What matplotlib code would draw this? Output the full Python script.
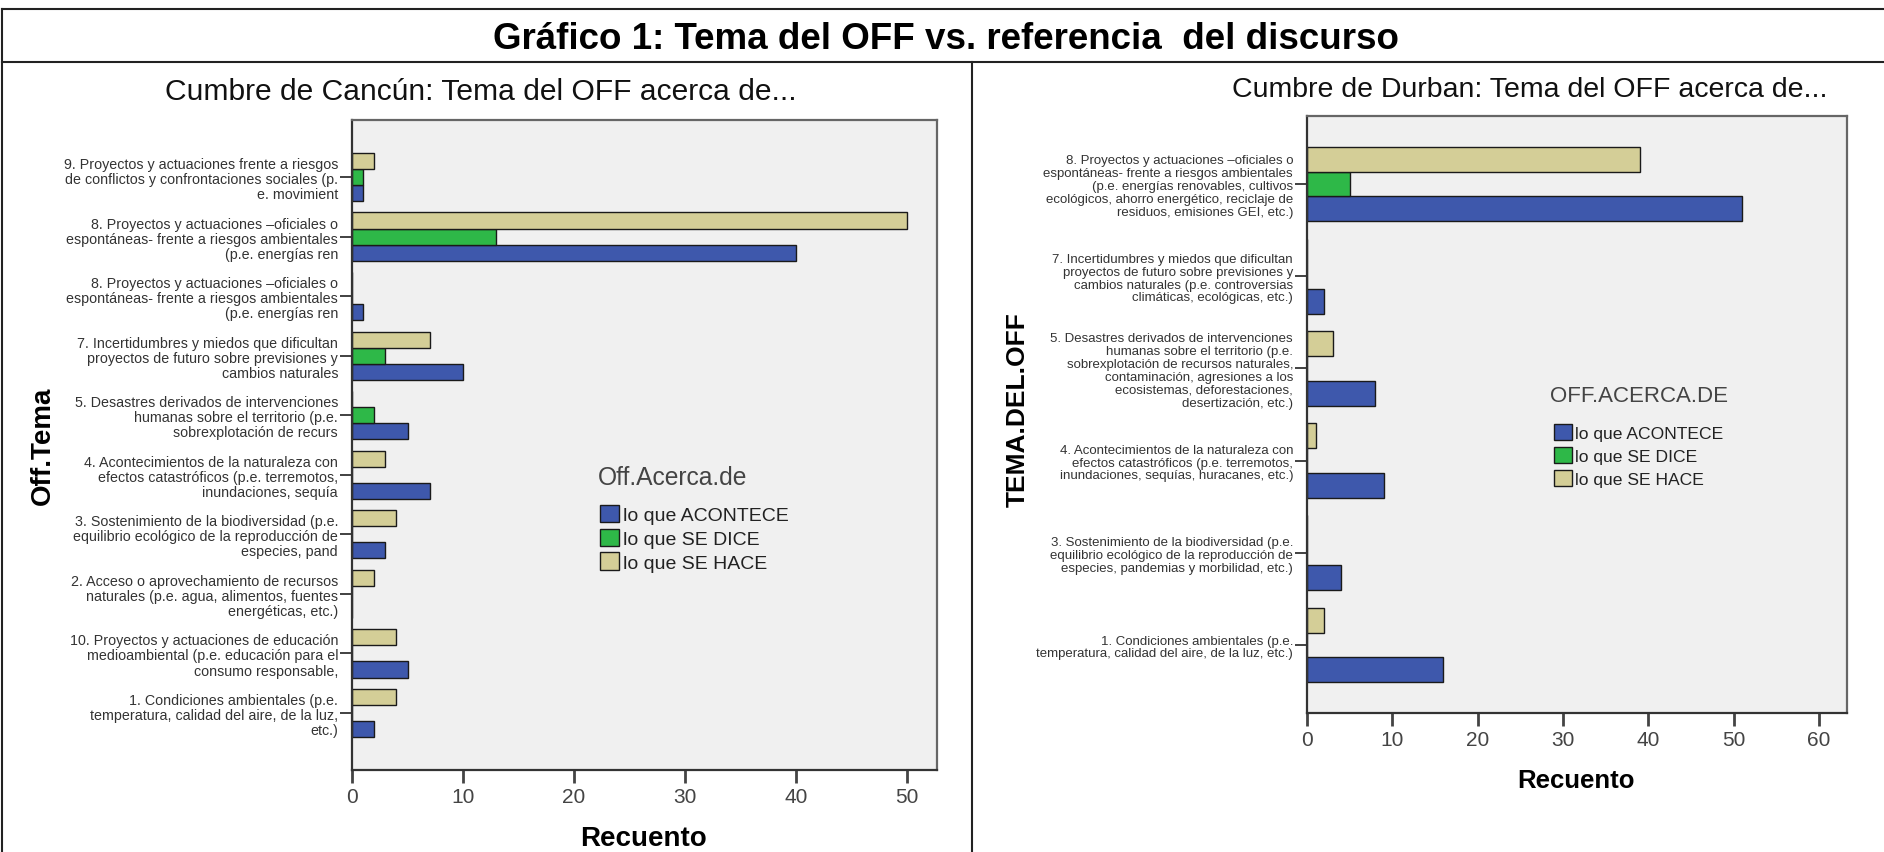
import numpy as np
import matplotlib
matplotlib.use("Agg")
import matplotlib.pyplot as plt
from matplotlib.lines import Line2D

plt.rcParams['font.family'] = ['Liberation Sans', 'DejaVu Sans']

# series (same order in both panels)
series = ["lo que ACONTECE", "lo que SE DICE", "lo que SE HACE"]
colors = ["#3E58AC", "#2EB848", "#D4CE97"]

# Cancún, categories listed top to bottom
cancun_labels = [
    "9. Proyectos y actuaciones frente a riesgos\nde conflictos y confrontaciones sociales (p.\ne. movimient",
    "8. Proyectos y actuaciones –oficiales o\nespontáneas- frente a riesgos ambientales\n(p.e. energías ren",
    "8. Proyectos y actuaciones –oficiales o\nespontáneas- frente a riesgos ambientales\n(p.e. energías ren",
    "7. Incertidumbres y miedos que dificultan\nproyectos de futuro sobre previsiones y\ncambios naturales",
    "5. Desastres derivados de intervenciones\nhumanas sobre el territorio (p.e.\nsobrexplotación de recurs",
    "4. Acontecimientos de la naturaleza con\nefectos catastróficos (p.e. terremotos,\ninundaciones, sequía",
    "3. Sostenimiento de la biodiversidad (p.e.\nequilibrio ecológico de la reproducción de\nespecies, pand",
    "2. Acceso o aprovechamiento de recursos\nnaturales (p.e. agua, alimentos, fuentes\nenergéticas, etc.)",
    "10. Proyectos y actuaciones de educación\nmedioambiental (p.e. educación para el\nconsumo responsable,",
    "1. Condiciones ambientales (p.e.\ntemperatura, calidad del aire, de la luz,\netc.)",
]
cancun_acontece = [1, 40, 1, 10, 5, 7, 3, 0, 5, 2]
cancun_dice = [1, 13, 0, 3, 2, 0, 0, 0, 0, 0]
cancun_hace = [2, 50, 0, 7, 0, 3, 4, 2, 4, 4]

# Durban, categories listed top to bottom
durban_labels = [
    "8. Proyectos y actuaciones –oficiales o\nespontáneas- frente a riesgos ambientales\n(p.e. energías renovables, cultivos\necológicos, ahorro energético, reciclaje de\nresiduos, emisiones GEI, etc.)",
    "7. Incertidumbres y miedos que dificultan\nproyectos de futuro sobre previsiones y\ncambios naturales (p.e. controversias\nclimáticas, ecológicas, etc.)",
    "5. Desastres derivados de intervenciones\nhumanas sobre el territorio (p.e.\nsobrexplotación de recursos naturales,\ncontaminación, agresiones a los\necosistemas, deforestaciones,\ndesertización, etc.)",
    "4. Acontecimientos de la naturaleza con\nefectos catastróficos (p.e. terremotos,\ninundaciones, sequías, huracanes, etc.)",
    "3. Sostenimiento de la biodiversidad (p.e.\nequilibrio ecológico de la reproducción de\nespecies, pandemias y morbilidad, etc.)",
    "1. Condiciones ambientales (p.e.\ntemperatura, calidad del aire, de la luz, etc.)",
]
durban_acontece = [51, 2, 8, 9, 4, 16]
durban_dice = [5, 0, 0, 0, 0, 0]
durban_hace = [39, 0, 3, 1, 0, 2]

W, H = 1884, 853
fig = plt.figure(figsize=(W / 100, H / 100), dpi=100)


def fx(px):
    return px / W


def fy(py):
    return 1 - py / H


# outer box, title strip and divider
for xs, ys in [((2, W), (10, 10)), ((2, 2), (10, H)), ((2, W), (63, 63)), ((972, 972), (63, H))]:
    fig.add_artist(Line2D([fx(xs[0]), fx(xs[1])], [fy(ys[0]), fy(ys[1])],
                          color="#222", lw=1.5, transform=fig.transFigure))


def panel(rect, labels, acontece, dice, hace, xmax, xticks, margin, lab_size,
          leg_title, title_pos, leg_anchor, leg_size, leg_title_size, leg_space):
    ax = fig.add_axes(rect)
    n = len(labels)
    y = np.arange(n)[::-1]
    h = 0.27
    for vals, off, c, name in zip([acontece, dice, hace], [-h, 0, h], colors, series):
        ax.barh(y + off, vals, height=h, color=c, edgecolor="#1a1a1a",
                linewidth=1.0, label=name, zorder=2)
    ax.set_facecolor("#F0F0F0")
    ax.set_xlim(0, xmax)
    ax.set_ylim(-margin, n - 1 + margin)
    ax.set_xticks(xticks)
    ax.set_yticks(y)
    ax.set_yticklabels(labels, fontsize=lab_size, linespacing=1.1, color="#333")
    ax.tick_params(axis="y", length=9, width=1.3, pad=1, color="#333")
    ax.tick_params(axis="x", length=9, width=2, pad=3, color="#444",
                   labelsize=15, labelcolor="#444")
    for s in ["left", "bottom"]:
        ax.spines[s].set_color("#333")
        ax.spines[s].set_linewidth(1.6)
    for s in ["top", "right"]:
        ax.spines[s].set_color("#666")
        ax.spines[s].set_linewidth(1.6)
    leg = ax.legend(loc="upper left",
                    bbox_to_anchor=(fx(leg_anchor[0]), fy(leg_anchor[1])),
                    bbox_transform=fig.transFigure, frameon=False,
                    fontsize=leg_size, handlelength=1.0, handleheight=1.0,
                    handletextpad=0.2, labelspacing=leg_space, borderpad=0,
                    borderaxespad=0)
    for t in leg.get_texts():
        t.set_color("#222")
    # legend heading
    fig.text(fx(title_pos[0]), fy(title_pos[1]), leg_title, ha="left", va="center",
             fontsize=leg_title_size, color="#444")
    return ax


panel([fx(352), fy(771), 585 / W, 650 / H], cancun_labels,
      cancun_acontece, cancun_dice, cancun_hace, 52.7, range(0, 51, 10), 0.957, 10.3,
      "Off.Acerca.de", (598, 478), (600, 506), 14, 17.7, 0.22)
panel([fx(1307), fy(714), 540 / W, 597 / H], durban_labels,
      durban_acontece, durban_dice, durban_hace, 63.3, range(0, 61, 10), 0.737, 9.5,
      "OFF.ACERCA.DE", (1550, 396), (1554, 425), 12.6, 16, 0.35)

fig.text(fx(946), fy(49), "Gráfico 1: Tema del OFF vs. referencia  del discurso",
         ha="center", va="baseline", fontsize=26.5, fontweight="bold")
fig.text(fx(481), fy(100), "Cumbre de Cancún: Tema del OFF acerca de...",
         ha="center", va="baseline", fontsize=21.6, color="#111")
fig.text(fx(1530), fy(97), "Cumbre de Durban: Tema del OFF acerca de...",
         ha="center", va="baseline", fontsize=20.5, color="#111")
fig.text(fx(43), fy(446), "Off.Tema", rotation=90, ha="center", va="center",
         fontsize=20, fontweight="bold")
fig.text(fx(1018), fy(410), "TEMA.DEL.OFF", rotation=90, ha="center", va="center",
         fontsize=19, fontweight="bold")
fig.text(fx(644), fy(846), "Recuento", ha="center", va="baseline",
         fontsize=20, fontweight="bold")
fig.text(fx(1576), fy(788), "Recuento", ha="center", va="baseline",
         fontsize=18.5, fontweight="bold")

fig.savefig("out.png", dpi=100)
